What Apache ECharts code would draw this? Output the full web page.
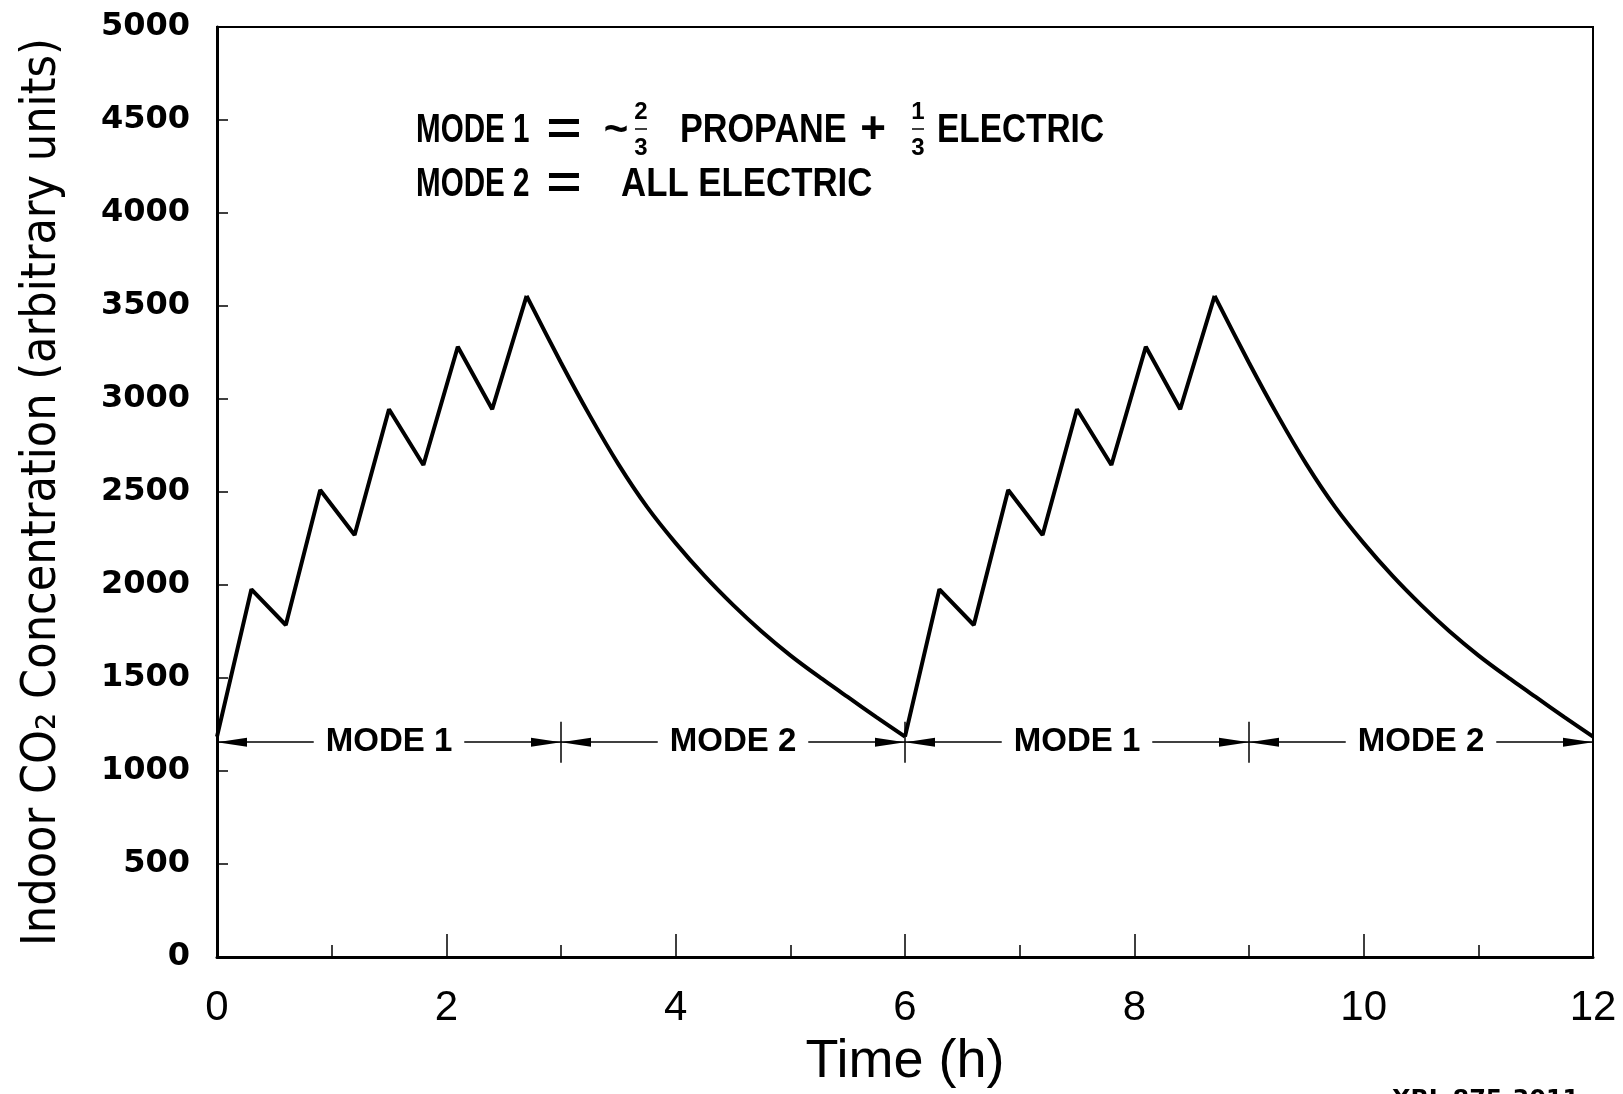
<!DOCTYPE html>
<html>
<head>
<meta charset="utf-8">
<script src="https://cdn.jsdelivr.net/npm/echarts@6/dist/echarts.min.js"></script>
<style>
html,body{margin:0;padding:0;background:#fff;}
#chart{width:1623px;height:1094px;}
</style>
</head>
<body>
<div id="chart"></div>
<script>
// ---- data ----
const riseTimes1 = [0, 0.3, 0.6, 0.9, 1.2, 1.5, 1.8, 2.1, 2.4, 2.7];
const riseConc1  = [1185, 1977, 1785, 2511, 2269, 2945, 2645, 3281, 2945, 3554];
const decayTimes1 = [2.7, 3.0, 3.25, 3.5, 3.75, 4.0, 4.25, 4.5, 4.75, 5.0, 5.25, 5.5, 5.75, 6.0];
const decayConc1  = [3554, 3195, 2912, 2650, 2420, 2225, 2050, 1893, 1750, 1622, 1507, 1398, 1290, 1185];

const riseTimes2 = [6, 6.3, 6.6, 6.9, 7.2, 7.5, 7.8, 8.1, 8.4, 8.7];
const riseConc2  = [1185, 1977, 1785, 2511, 2269, 2945, 2645, 3281, 2945, 3554];
const decayTimes2 = [8.7, 9.0, 9.25, 9.5, 9.75, 10.0, 10.25, 10.5, 10.75, 11.0, 11.25, 11.5, 11.75, 12.0];
const decayConc2  = [3554, 3195, 2912, 2650, 2420, 2225, 2050, 1893, 1750, 1622, 1507, 1398, 1290, 1185];

const modeStarts = [0, 3, 6, 9];
const modeEnds   = [3, 6, 9, 12];
const modeCenters = [1.5, 4.5, 7.5, 10.5];
const modeLabels = ['MODE 1', 'MODE 2', 'MODE 1', 'MODE 2'];
const modeLevel = 1155;
const modeDividers = [3, 6, 9];

const xTicks = [0, 2, 4, 6, 8, 10, 12];
const yTicks = [0, 500, 1000, 1500, 2000, 2500, 3000, 3500, 4000, 4500, 5000];

// ---- build ----
function pairs(xs, ys) { return xs.map((x, i) => [x, ys[i]]); }
const riseData = pairs(riseTimes1, riseConc1).concat([[null, null]], pairs(riseTimes2, riseConc2));
const decayData = pairs(decayTimes1, decayConc1).concat([[null, null]], pairs(decayTimes2, decayConc2));

const sans = '"Liberation Sans", Arial, sans-serif';
const cond = '"DejaVu Sans Condensed", "Liberation Sans", sans-serif';

const modeLines = modeStarts.map((s, i) => [
  { coord: [s, modeLevel] },
  { coord: [modeEnds[i], modeLevel] }
]);
const dividerLines = modeDividers.map(d => [
  { coord: [d, modeLevel - 110], symbol: 'none' },
  { coord: [d, modeLevel + 110], symbol: 'none' }
]);
const modeLabelData = modeCenters.map((c, i) => ({ value: [c, modeLevel], name: modeLabels[i] }));

const chart = echarts.init(document.getElementById('chart'), null, { renderer: 'canvas' });

const txt = (text, x, y, size, align, sx) => ({
  type: 'text', x: x, y: y, scaleX: sx || 1, silent: true,
  style: {
    text: text, fill: '#000',
    font: 'bold ' + size + 'px ' + sans,
    textAlign: align || 'left', textVerticalAlign: 'middle',
    align: align || 'left', verticalAlign: 'middle'
  }
});

chart.setOption({
  animation: false,
  backgroundColor: '#fff',
  grid: {
    left: 217, right: 30, top: 27, bottom: 137, show: true,
    borderColor: '#000', borderWidth: 2, backgroundColor: 'transparent',
    containLabel: false, outerBoundsMode: 'none'
  },
  xAxis: {
    type: 'value', min: 0, max: 12, interval: 2,
    name: 'Time (h)', nameLocation: 'middle', nameGap: 78,
    nameTextStyle: { fontFamily: sans, fontSize: 54, color: '#000' },
    axisLine: { show: true, lineStyle: { color: '#000', width: 3 } },
    axisTick: { show: true, inside: true, length: 23, lineStyle: { color: '#000', width: 1.5 } },
    minorTick: { show: true, splitNumber: 2, length: 12, lineStyle: { color: '#000', width: 1.5 } },
    splitLine: { show: false },
    axisLabel: { margin: 30, fontFamily: sans, fontSize: 42, color: '#000', formatter: v => String(v) }
  },
  yAxis: {
    type: 'value', min: 0, max: 5000, interval: 500,
    name: 'Indoor CO\u2082 Concentration (arbitrary units)', nameLocation: 'middle', nameGap: 150,
    nameTextStyle: { fontFamily: cond, fontSize: 48, color: '#000' },
    axisLine: { show: true, lineStyle: { color: '#000', width: 3 } },
    axisTick: { show: true, inside: true, length: 11, lineStyle: { color: '#000', width: 1.5 } },
    splitLine: { show: false },
    axisLabel: { margin: 27, fontFamily: '"DejaVu Sans", sans-serif', fontWeight: 'bold', fontSize: 32, color: '#000', formatter: v => String(v) }
  },
  series: [
    {
      name: 'Rise', type: 'line', data: riseData, showSymbol: false, connectNulls: false,
      lineStyle: { color: '#000', width: 4 }, z: 5
    },
    {
      name: 'Decay', type: 'line', data: decayData, showSymbol: false, connectNulls: false, smooth: 0.25,
      lineStyle: { color: '#000', width: 4 }, z: 5
    },
    {
      name: 'Modes', type: 'line', data: [], z: 3,
      markLine: {
        silent: true, animation: false,
        symbol: ['triangle', 'triangle'], symbolSize: [9, 30],
        symbolOffset: [[0, '50%'], [0, '50%']],
        lineStyle: { color: '#000', width: 1.5, type: 'solid' },
        label: { show: false },
        data: modeLines.concat(dividerLines)
      }
    },
    {
      name: 'Mode labels', type: 'scatter', data: modeLabelData, symbolSize: 0, z: 6, silent: true,
      itemStyle: { opacity: 1 },
      label: {
        show: true, position: 'inside', formatter: p => p.name, color: '#000', opacity: 1,
        fontFamily: sans, fontWeight: 'bold', fontSize: 33,
        backgroundColor: '#fff', padding: [2, 12, 0, 12]
      }
    }
  ],
  graphic: [
    txt('MODE 1', 416, 131, 40, 'left', 0.74),
    txt('=', 564, 131, 46, 'center', 1.3),
    txt('~', 616, 131, 42, 'center'),
    txt('2', 641, 112, 24, 'center'),
    { type: 'line', silent: true, shape: { x1: 635, y1: 129, x2: 647, y2: 129 }, style: { stroke: '#000', lineWidth: 1.5 } },
    txt('3', 641, 148, 24, 'center'),
    txt('PROPANE', 680, 131, 40, 'left', 0.855),
    txt('+', 873, 131, 44, 'center'),
    txt('1', 918, 112, 24, 'center'),
    { type: 'line', silent: true, shape: { x1: 912, y1: 129, x2: 924, y2: 129 }, style: { stroke: '#000', lineWidth: 1.5 } },
    txt('3', 918, 148, 24, 'center'),
    txt('ELECTRIC', 937, 131, 40, 'left', 0.835),
    txt('MODE 2', 416, 185, 40, 'left', 0.74),
    txt('=', 564, 185, 46, 'center', 1.3),
    txt('ALL ELECTRIC', 621, 185, 40, 'left', 0.87),
    {
      type: 'text', x: 1392, y: 1089, silent: true,
      style: { text: 'XBL 875-3011', fill: '#000', font: 'bold 24px "DejaVu Sans", sans-serif', textAlign: 'left', textVerticalAlign: 'top', align: 'left', verticalAlign: 'top' }
    }
  ]
});
</script>
</body>
</html>
